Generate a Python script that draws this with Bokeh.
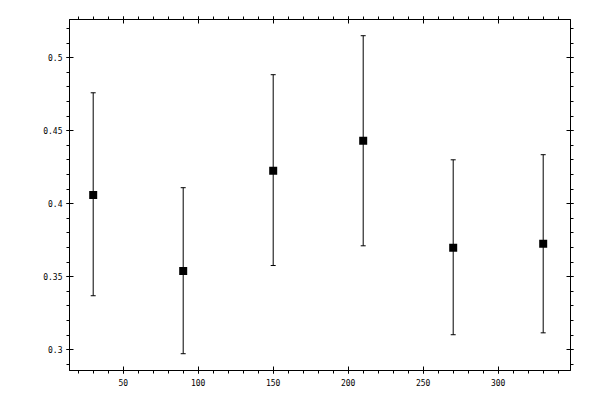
from bokeh.plotting import figure
from bokeh.models import (ColumnDataSource, Range1d, LinearAxis, SingleIntervalTicker,
                          CustomJSTickFormatter, Whisker, TeeHead)
from bokeh.embed import file_html
from bokeh.resources import INLINE

angles = [30, 90, 150, 210, 270, 330]
means = [0.406, 0.354, 0.4226, 0.4431, 0.3699, 0.3726]
upper = [0.476, 0.411, 0.4884, 0.5151, 0.4301, 0.4336]
lower = [0.337, 0.2973, 0.3577, 0.3712, 0.3103, 0.3116]

src = ColumnDataSource(dict(x=angles, y=means, up=upper, lo=lower))

p = figure(width=592, height=392, output_backend="svg", toolbar_location=None,
           x_range=Range1d(14.2, 348.2), y_range=Range1d(0.2858, 0.5262),
           x_axis_location=None, y_axis_location=None,
           min_border_left=69, min_border_right=22, min_border_top=19, min_border_bottom=22)
p.frame_width = 501
p.frame_height = 351
p.xgrid.visible = False
p.ygrid.visible = False
p.outline_line_color = "black"
p.background_fill_color = "white"
p.border_fill_color = "white"

fmt = CustomJSTickFormatter(code="return String(Number(tick.toFixed(4)));")
blank = CustomJSTickFormatter(code="return '';")

def style(ax, labels):
    ax.axis_line_color = "black"
    ax.major_tick_line_color = "black"
    ax.minor_tick_line_color = "black"
    ax.major_tick_in = 4
    ax.major_tick_out = 3
    ax.minor_tick_in = 0
    ax.minor_tick_out = 3
    if labels:
        ax.major_label_text_font = "DejaVu Sans Mono"
        ax.major_label_text_font_size = "8px"
        ax.major_label_text_color = "black"
        ax.formatter = fmt
    else:
        ax.formatter = blank
        ax.major_label_text_font_size = "0px"
        ax.major_label_standoff = 0

xt = lambda: SingleIntervalTicker(interval=50, num_minor_ticks=5)
yt = lambda: SingleIntervalTicker(interval=0.05, num_minor_ticks=5)

bx = LinearAxis(ticker=xt()); style(bx, True); bx.major_label_standoff = 5
tx = LinearAxis(ticker=xt()); style(tx, False)
ly = LinearAxis(ticker=yt()); style(ly, True); ly.major_label_standoff = 4
ry = LinearAxis(ticker=yt()); style(ry, False)
p.add_layout(bx, "below")
p.add_layout(tx, "above")
p.add_layout(ly, "left")
p.add_layout(ry, "right")

w = Whisker(source=src, base="x", upper="up", lower="lo", line_color="black", line_width=1,
            upper_head=TeeHead(size=5, line_color="black", line_width=1),
            lower_head=TeeHead(size=5, line_color="black", line_width=1))
p.add_layout(w)
p.scatter("x", "y", source=src, marker="square", size=8, fill_color="black", line_color=None)

open("out.html", "w").write(file_html(p, INLINE))
